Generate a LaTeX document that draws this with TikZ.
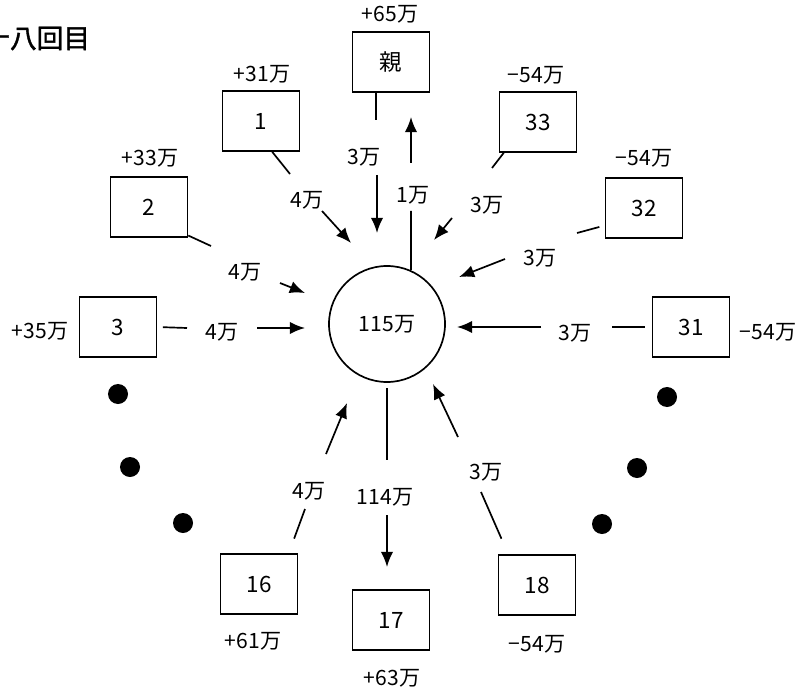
\documentclass[tikz,border=0pt]{standalone}
\usepackage{fontspec}
\setmainfont{Noto Sans CJK JP}
\newfontfamily\titlefont[FakeBold=1.5]{Noto Sans CJK JP}
\usetikzlibrary{arrows.meta}

\begin{document}
\begin{tikzpicture}[x=0.025cm,y=-0.025cm,
  lbl/.style={inner sep=0pt,font=\fontsize{15}{17}\selectfont},
  box/.style={draw,line width=1.2pt,minimum width=1.92cm,minimum height=1.5cm,inner sep=0pt,font=\fontsize{16}{18}\selectfont},
  link/.style={line width=1.2pt},
  flow/.style={line width=1.2pt,-{Latex[length=3.8mm,width=3.1mm]}}]
\useasboundingbox (0,0) rectangle (800,694);

% Title (cut at the left edge)
\node[anchor=west,inner sep=0pt,font=\titlefont\fontsize{19}{21}\selectfont] (title) at (-17,38) {十八回目};

% Centre
\node[circle,draw,line width=1.2pt,minimum size=2.9cm,inner sep=0pt,font=\fontsize{15}{17}\selectfont] (hub) at (387,324) {115万};

% Boxes
\node[box] (oya) at (391,62) {親};
\node[box] (b1) at (261,121) {1};
\node[box] (b2) at (149,207) {2};
\node[box] (b3) at (118,327) {3};
\node[box] (b16) at (259,584) {16};
\node[box] (b17) at (391,620) {17};
\node[box] (b18) at (537,585) {18};
\node[box] (b31) at (691,327) {31};
\node[box] (b32) at (644,208) {32};
\node[box] (b33) at (538,122) {33};

% Balances
\node[lbl] (v0) at (390,14) {+65万};
\node[lbl] (v1) at (262,74) {+31万};
\node[lbl] (v2) at (150,158) {+33万};
\node[lbl] (v3) at (40,331) {+35万};
\node[lbl] (v16) at (253,641) {+61万};
\node[lbl] (v17) at (392,678) {+63万};
\node[lbl] (v18) at (537,644) {−54万};
\node[lbl] (v31) at (768,332) {−54万};
\node[lbl] (v32) at (644,158) {−54万};
\node[lbl] (v33) at (536,75) {−54万};

% Break points of the connectors
\coordinate (oyaD) at (376,120);
\coordinate (oyaA) at (377,175);
\coordinate (oyaB) at (377,233);
\coordinate (upD) at (411,211);
\coordinate (upA) at (411,163);
\coordinate (upB) at (411,117);
\coordinate (p1) at (290,174);
\coordinate (a1) at (322,211);
\coordinate (h1) at (351,243);
\coordinate (p2) at (211,246);
\coordinate (a2) at (280,283);
\coordinate (h2) at (305,293);
\coordinate (p3) at (187,328);
\coordinate (a3) at (257,328);
\coordinate (h3) at (305,328);
\coordinate (p16) at (305,509);
\coordinate (a16) at (326,454);
\coordinate (h16) at (347,403);
\coordinate (p17) at (387,460);
\coordinate (a17) at (387,515);
\coordinate (h17) at (387,567);
\coordinate (p18) at (481,492);
\coordinate (a18) at (458,437);
\coordinate (h18) at (433,384);
\coordinate (p31) at (612,327);
\coordinate (a31) at (541,327);
\coordinate (h31) at (457,327);
\coordinate (p32) at (577,233);
\coordinate (a32) at (505,259);
\coordinate (h32) at (459,277);
\coordinate (p33) at (492,168);
\coordinate (a33) at (452,218);
\coordinate (h33) at (434,240);

% Connectors
\draw[link] (oya.south -| oyaD) -- (oyaD);
\draw[flow] (oyaA) -- (oyaB);
\draw[link] (hub.66) -- (upD);
\draw[flow] (upA) -- (upB);
\draw[link] (b1.-70) -- (p1);
\draw[flow] (a1) -- (h1);
\draw[link] (b2.-36) -- (p2);
\draw[flow] (a2) -- (h2);
\draw[link,shorten <=4pt] (b3.east) -- (p3);
\draw[flow] (a3) -- (h3);
\draw[link,shorten <=11pt] (b16.46) -- (p16);
\draw[flow] (a16) -- (h16);
\draw[link,shorten <=4pt] (hub.south) -- (p17);
\draw[flow] (a17) -- (h17);
\draw[link,shorten <=12pt] (b18.133) -- (p18);
\draw[flow] (a18) -- (h18);
\draw[link,shorten <=5pt] (b31.west) -- (p31);
\draw[flow] (a31) -- (h31);
\draw[link,shorten <=4pt] (b32.204) -- (p32);
\draw[flow] (a32) -- (h32);
\draw[link] (b33.222) -- (p33);
\draw[flow] (a33) -- (h33);

% Amounts on the connectors
\node[lbl] (f0) at (364,157) {3万};
\node[lbl] (fu) at (413,195) {1万};
\node[lbl] (f1) at (307,200) {4万};
\node[lbl] (f2) at (245,272) {4万};
\node[lbl] (f3) at (222,332) {4万};
\node[lbl] (f16) at (309,491) {4万};
\node[lbl] (f17) at (385,497) {114万};
\node[lbl] (f18) at (486,472) {3万};
\node[lbl] (f31) at (575,333) {3万};
\node[lbl] (f32) at (540,258) {3万};
\node[lbl] (f33) at (487,205) {3万};

% Dots for the boxes left out
\foreach \p in {(118,394),(130,467),(183,523),(667,397),(637,468),(602,524)} {
  \fill \p circle (0.25cm);
}
\end{tikzpicture}
\end{document}
